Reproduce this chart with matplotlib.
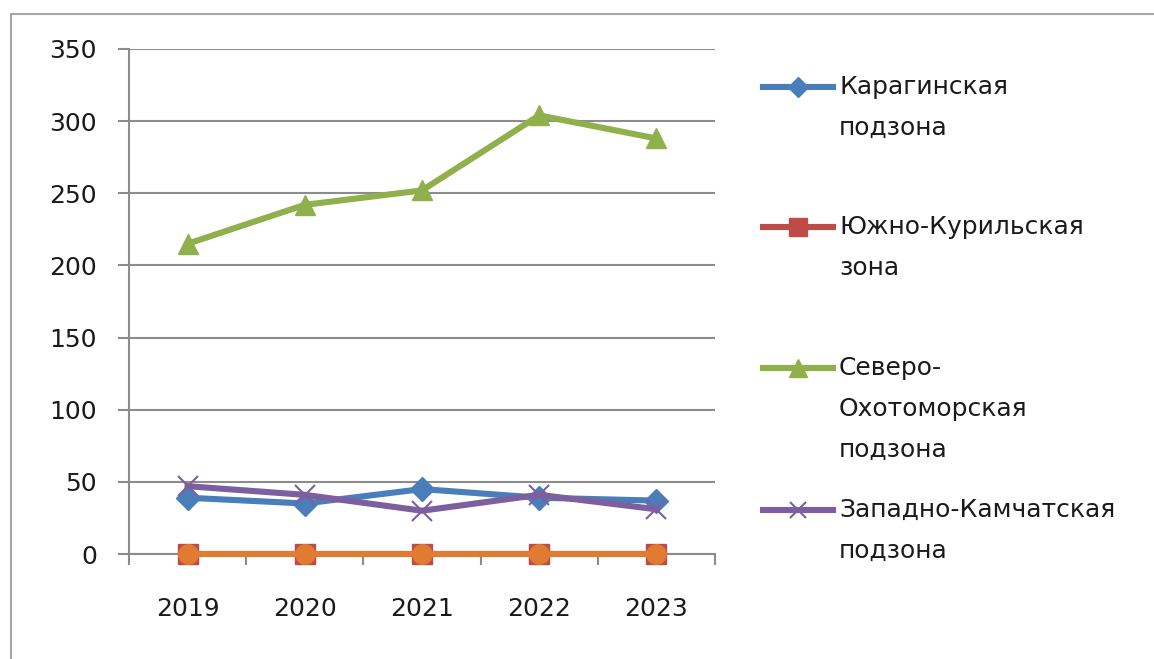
import matplotlib
matplotlib.use("Agg")
import matplotlib.pyplot as plt
from matplotlib.lines import Line2D
from matplotlib.patches import Rectangle

# data
years = ["2019", "2020", "2021", "2022", "2023"]
karaginskaya = [39, 35, 45, 39, 37]
yuzhno_kurilskaya = [0, 0, 0, 0, 0]
severo_okhotomorskaya = [215, 242, 252, 304, 288]
zapadno_kamchatskaya = [47, 41, 30, 41, 31]
other_zone = [0, 0, 0, 0, 0]  # orange series, not shown in the legend

labels = ["Карагинская\nподзона",
          "Южно-Курильская\nзона",
          "Северо-\nОхотоморская\nподзона",
          "Западно-Камчатская\nподзона"]
y_ticks = [0, 50, 100, 150, 200, 250, 300, 350]

W, H = 1154, 659
plt.rcParams['font.family'] = ['DejaVu Sans']
fig = plt.figure(figsize=(W / 100, H / 100), dpi=100)
ax = fig.add_axes([129 / W, 1 - 554 / H, (715 - 129) / W, (554 - 49) / H])

grey = '#8c8c8c'
txt = '#1a1a1a'
styles = [
    dict(color='#4a7ebb', marker='D', ms=12),
    dict(color='#be4b48', marker='s', ms=15),
    dict(color='#8fb04a', marker='^', ms=15),
    dict(color='#7d5fa0', marker='x', ms=14, mew=1.5),
]
series = [karaginskaya, yuzhno_kurilskaya, severo_okhotomorskaya, zapadno_kamchatskaya]

x = list(range(len(years)))
for vals, st in zip(series, styles):
    ax.plot(x, vals, lw=4.4, clip_on=False, zorder=3, **st)
ax.plot(x, other_zone, color='#e07b31', lw=4.4, marker='o', ms=14,
        clip_on=False, zorder=4)

ax.set_xlim(-0.5, len(years) - 0.5)
ax.set_ylim(0, 350)
ax.set_yticks(y_ticks)
ax.set_xticks(x)
ax.set_xticklabels(years)
ax.set_xticks([i - 0.5 for i in range(len(years) + 1)], minor=True)
ax.tick_params(axis='x', which='major', length=0, pad=31, labelsize=18, colors=txt)
ax.tick_params(axis='x', which='minor', length=8, width=1.5, color=grey, direction='out')
ax.tick_params(axis='y', length=8, width=1.5, color=grey, pad=15, labelsize=18,
               labelcolor=txt)
ax.yaxis.grid(True, color=grey, lw=1.5)
ax.set_axisbelow(True)
for s in ['top', 'right']:
    ax.spines[s].set_visible(False)
for s in ['left', 'bottom']:
    ax.spines[s].set_color(grey)
    ax.spines[s].set_linewidth(1.5)

# hand-placed legend like the Excel one
def fx(px):
    return px / W

def fy(py):
    return 1 - py / H

legend_rows = [87, 227, 368, 510]
for lab, st, row in zip(labels, styles, legend_rows):
    hs = dict(st)
    hs['ms'] = st['ms'] * 0.85
    fig.add_artist(Line2D([fx(763), fx(798), fx(833)], [fy(row)] * 3,
                          lw=4.4, markevery=[1], **hs))
    fig.text(fx(839), fy(row - 12), lab, fontsize=18, va='top', ha='left',
             linespacing=1.88, color=txt)

fig.add_artist(Rectangle((fx(11), -0.05), 1.2, fy(14) + 0.05, fill=False,
                         edgecolor='#a6a6a6', lw=1.5, transform=fig.transFigure))

fig.savefig('out.png', dpi=100)
